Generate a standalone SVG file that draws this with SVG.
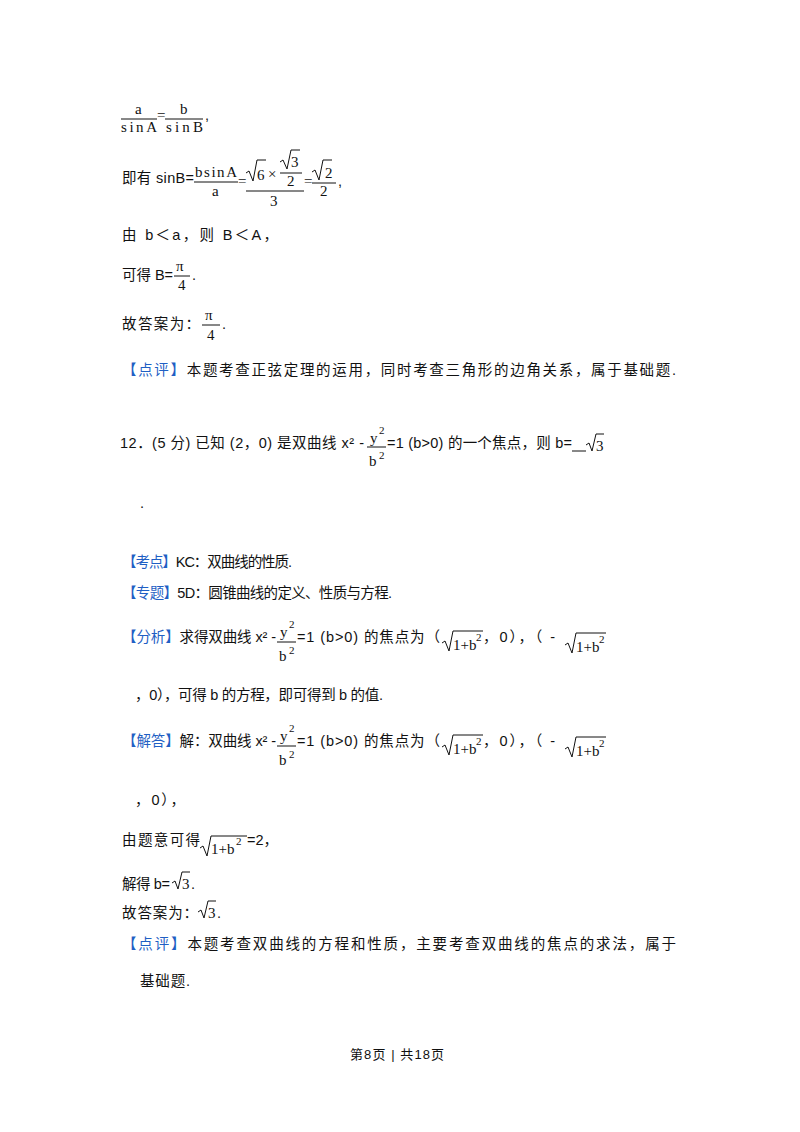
<svg xmlns="http://www.w3.org/2000/svg" width="800" height="1132" viewBox="0 0 800 1132">
<style>
text{font-family:"Liberation Sans","Noto Sans CJK SC",sans-serif;font-size:14.5px;fill:#111}
.m{font-family:"Liberation Serif","Noto Sans CJK SC",serif;font-size:15px}
.s{font-size:11px}
.b{fill:#1f5fc4}
line{stroke:#111;stroke-width:1}
path{stroke:#111;stroke-width:1;fill:none}
.f{font-size:13px}
</style>
<rect width="800" height="1132" fill="#fff"/>
<text class="m" x="135" y="114">a</text>
<line x1="121" y1="119" x2="157" y2="119"/>
<text class="m" x="121" y="132" textLength="36" lengthAdjust="spacing">sinA</text>
<text class="m" x="157" y="120">=</text>
<text class="m" x="180" y="114">b</text>
<line x1="165" y1="119" x2="203" y2="119"/>
<text class="m" x="166" y="132" textLength="37" lengthAdjust="spacing">sinB</text>
<text x="205" y="120">,</text>
<text x="122" y="183" textLength="72" lengthAdjust="spacing">即有 sinB=</text>
<text class="m" x="195" y="177" textLength="42" lengthAdjust="spacing">bsinA</text>
<line x1="194" y1="182" x2="238" y2="182"/>
<text class="m" x="212" y="196">a</text>
<text class="m" x="238" y="186">=</text>
<path d="M246 173 l3 -2 4 10 4 -21 h9"/>
<text class="m" x="257" y="180">6</text>
<text class="m" x="268" y="179">×</text>
<path d="M280 162 l3 -2 4 9 4 -19 h9"/>
<text class="m" x="291" y="167">3</text>
<line x1="280" y1="173" x2="302" y2="173"/>
<text class="m" x="287" y="186">2</text>
<line x1="246" y1="191" x2="304" y2="191"/>
<text class="m" x="270" y="206">3</text>
<text class="m" x="304" y="186">=</text>
<path d="M312 172 l3 -2 4 10 4 -20 h9"/>
<text class="m" x="325" y="178">2</text>
<line x1="312" y1="183" x2="336" y2="183"/>
<text class="m" x="320" y="196">2</text>
<text x="338" y="186">,</text>
<text x="122" y="240" textLength="156" lengthAdjust="spacing">由 b＜a，则 B＜A，</text>
<text x="122" y="280" textLength="51" lengthAdjust="spacing">可得 B=</text>
<text class="m" x="176" y="271">π</text>
<line x1="174" y1="276" x2="190" y2="276"/>
<text class="m" x="178" y="290">4</text>
<text x="192" y="280">.</text>
<text x="122" y="329" textLength="78" lengthAdjust="spacing">故答案为：</text>
<text class="m" x="205" y="320">π</text>
<line x1="202" y1="325" x2="220" y2="325"/>
<text class="m" x="207" y="340">4</text>
<text x="222" y="329">.</text>
<text x="122" y="375" textLength="554" lengthAdjust="spacing"><tspan class="b">【点评】</tspan>本题考查正弦定理的运用，同时考查三角形的边角关系，属于基础题.</text>
<text x="120" y="448" textLength="244" lengthAdjust="spacing">12．(5 分) 已知 (2，0) 是双曲线 x² -</text>
<text class="m" x="370" y="443">y</text><text class="m s" x="379" y="434">2</text>
<line x1="367" y1="447" x2="386" y2="447"/>
<text class="m" x="369" y="466">b</text><text class="m s" x="379" y="459">2</text>
<text x="387" y="448" textLength="185" lengthAdjust="spacing">=1 (b&gt;0) 的一个焦点，则 b=</text>
<line x1="572" y1="451" x2="586" y2="451"/>
<path d="M586 445 l3 -2 3 8 4 -17 h8"/>
<text class="m" x="596" y="451">3</text>
<text x="140" y="508">.</text>
<text x="122" y="567" textLength="170" lengthAdjust="spacing"><tspan class="b">【考点】</tspan>KC：双曲线的性质.</text>
<text x="122" y="598" textLength="270" lengthAdjust="spacing"><tspan class="b">【专题】</tspan>5D：圆锥曲线的定义、性质与方程.</text>
<text x="122" y="642" textLength="154" lengthAdjust="spacing"><tspan class="b">【分析】</tspan>求得双曲线 x² -</text>
<text class="m" x="280" y="637">y</text><text class="m s" x="289" y="628">2</text>
<line x1="277" y1="642" x2="296" y2="642"/>
<text class="m" x="279" y="661">b</text><text class="m s" x="289" y="654">2</text>
<text x="297" y="642" textLength="143" lengthAdjust="spacing">=1 (b&gt;0) 的焦点为（</text>
<path d="M442 643 l3 -2 4 10 4 -20 h30"/>
<text class="m" x="453" y="650">1+b</text><text class="m s" x="476" y="641">2</text>
<text x="483" y="642" textLength="72" lengthAdjust="spacing">，0），（ -</text>
<path d="M565 645 l3 -2 4 10 4 -20 h30"/>
<text class="m" x="576" y="652">1+b</text><text class="m s" x="599" y="643">2</text>
<text x="135" y="700" textLength="248" lengthAdjust="spacing">，0），可得 b 的方程，即可得到 b 的值.</text>
<text x="122" y="746" textLength="154" lengthAdjust="spacing"><tspan class="b">【解答】</tspan>解：双曲线 x² -</text>
<text class="m" x="280" y="741">y</text><text class="m s" x="289" y="732">2</text>
<line x1="277" y1="746" x2="296" y2="746"/>
<text class="m" x="279" y="765">b</text><text class="m s" x="289" y="758">2</text>
<text x="297" y="746" textLength="143" lengthAdjust="spacing">=1 (b&gt;0) 的焦点为（</text>
<path d="M442 747 l3 -2 4 10 4 -20 h30"/>
<text class="m" x="453" y="754">1+b</text><text class="m s" x="476" y="745">2</text>
<text x="483" y="746" textLength="72" lengthAdjust="spacing">，0），（ -</text>
<path d="M565 749 l3 -2 4 10 4 -20 h30"/>
<text class="m" x="576" y="756">1+b</text><text class="m s" x="599" y="747">2</text>
<text x="135" y="805" textLength="50" lengthAdjust="spacing">，0），</text>
<text x="122" y="845" textLength="78" lengthAdjust="spacing">由题意可得</text>
<path d="M200 848 l3 -2 4 10 4 -20 h36"/>
<text class="m" x="211" y="854">1+b</text><text class="m s" x="236" y="845">2</text>
<text x="247" y="845">=2，</text>
<text x="122" y="889" textLength="48" lengthAdjust="spacing">解得 b=</text>
<path d="M172 883 l3 -2 3 8 4 -17 h8"/>
<text class="m" x="182" y="889">3</text>
<text x="191" y="889">.</text>
<text x="122" y="918" textLength="76" lengthAdjust="spacing">故答案为：</text>
<path d="M198 912 l3 -2 3 8 4 -17 h8"/>
<text class="m" x="208" y="918">3</text>
<text x="217" y="918">.</text>
<text x="122" y="949" textLength="554" lengthAdjust="spacing"><tspan class="b">【点评】</tspan>本题考查双曲线的方程和性质，主要考查双曲线的焦点的求法，属于</text>
<text x="140" y="986" textLength="50" lengthAdjust="spacing">基础题.</text>
<text class="f" x="350" y="1059" textLength="94" lengthAdjust="spacing">第8页   | 共18页</text>
</svg>
